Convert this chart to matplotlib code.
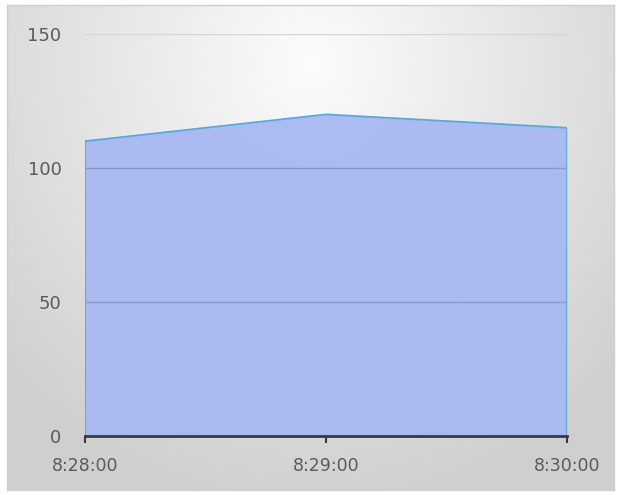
import matplotlib

matplotlib.use("Agg")
import matplotlib.pyplot as plt
import numpy as np

times = ["8:28:00", "8:29:00", "8:30:00"]
values = [110, 120, 115]
y_ticks = [0, 50, 100, 150]

W, H = 621, 495
fig = plt.figure(figsize=(W / 100, H / 100), dpi=100)
fig.patch.set_facecolor("white")

# soft radial backdrop inside a thin grey frame
bg = fig.add_axes([7 / W, 5 / H, 607 / W, 485 / H])
yy, xx = np.mgrid[0:1:200j, 0:1:250j]
r = np.sqrt(((xx - 0.5) / 0.75) ** 2 + ((yy - 0.12) / 1.0) ** 2)
shade = np.clip(252 - 48 * r, 207, 252) / 255.0
bg.imshow(np.dstack([shade] * 3), extent=[0, 1, 0, 1], origin="upper", aspect="auto")
bg.set_xticks([])
bg.set_yticks([])
for s in bg.spines.values():
    s.set_color("#cfcfcf")
    s.set_linewidth(1)

ax = fig.add_axes([85 / W, 59 / H, 482 / W, 402 / H])
ax.patch.set_alpha(0)
x = np.arange(len(times))
ax.fill_between(x, values, 0, color="#a8b8f2", alpha=0.95, zorder=2, linewidth=0)
ax.plot(x, values, color="#55aadb", linewidth=1.3, zorder=4)
ax.vlines([x[0], x[-1]], 0, [values[0], values[-1]], color="#55aadb", linewidth=1.3, zorder=4)

for v in y_ticks[1:]:
    ax.axhline(v, color="#8e98c4" if v < max(values) else "#d6d6d6",
               linewidth=1, zorder=3)

ax.set_xlim(x[0], x[-1])
ax.set_ylim(0, 150)
ax.set_yticks(y_ticks)
ax.set_xticks(x)
ax.set_xticklabels(times)

for side in ("top", "right", "left"):
    ax.spines[side].set_visible(False)
ax.spines["bottom"].set_color("#3a3a3a")
ax.spines["bottom"].set_linewidth(2)
ax.spines["bottom"].set_zorder(5)
ax.spines["bottom"].set_clip_on(False)

ax.tick_params(axis="x", length=5, width=1.5, color="#3a3a3a", pad=10,
               labelsize=12.5, labelcolor="#5a5a5a")
ax.tick_params(axis="y", length=0, pad=17, labelsize=13, labelcolor="#5a5a5a")

fig.savefig("out.png", dpi=100)
